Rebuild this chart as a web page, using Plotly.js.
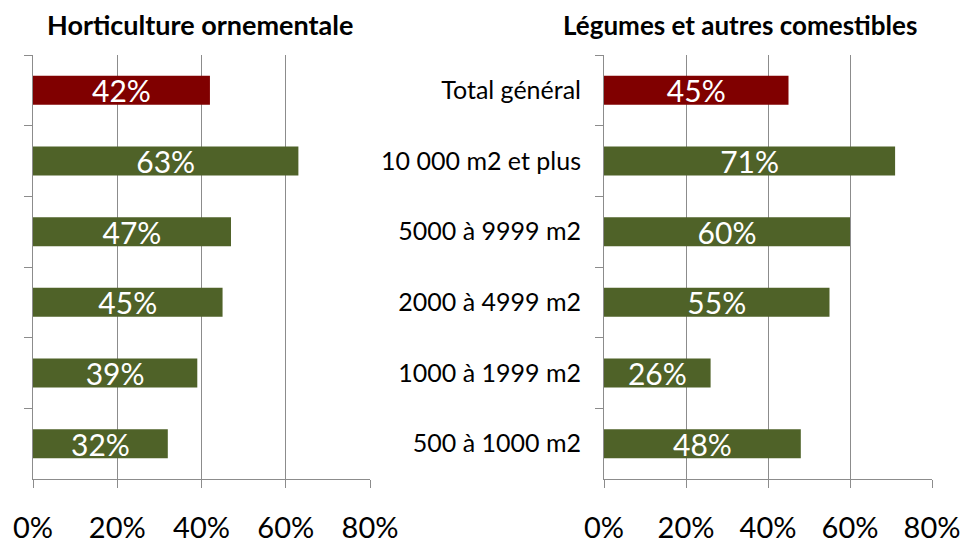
<!DOCTYPE html>
<html><head><meta charset="utf-8">
<script src="https://cdn.plot.ly/plotly-3.0.1.min.js"></script>
<style>html,body{margin:0;padding:0;background:#fff}</style>
</head><body><div id="chart" style="width:962px;height:544px"></div>
<script>
const categories = ["Total général", "10 000 m2 et plus", "5000 à 9999 m2", "2000 à 4999 m2", "1000 à 1999 m2", "500 à 1000 m2"];
const horticulture = [42, 63, 47, 45, 39, 32];
const legumes = [45, 71, 60, 55, 26, 48];
const xTickVals = [0, 20, 40, 60, 80];
const xTickText = ["0%", "20%", "40%", "60%", "80%"];
const titles = ["Horticulture ornementale", "Légumes et autres comestibles"];

const red = "#800000", green = "#4F6228";
const colors = categories.map((c, i) => i === 0 ? red : green);
const FONT = "Lato, 'Noto Sans', sans-serif";

function barTrace(vals, xa, ya) {
  return {
    type: "bar", orientation: "h", x: vals, y: categories,
    xaxis: xa, yaxis: ya,
    marker: {color: colors, line: {width: 0}},
    text: vals.map(v => v + "%"), textposition: "inside",
    insidetextanchor: "middle", constraintext: "none",
    textfont: {family: FONT, size: 30, color: "#ffffff"},
    hoverinfo: "skip", cliponaxis: false
  };
}

const gridCol = "#8c8c8c";
function xAxis(domain, anchor) {
  return {
    domain: domain, anchor: anchor, range: [0, 80], tickvals: xTickVals, ticktext: xTickText,
    showgrid: true, gridcolor: gridCol, gridwidth: 1, zeroline: false,
    showline: true, linecolor: gridCol, linewidth: 1,
    ticks: "outside", ticklen: 8, tickcolor: gridCol,
    ticklabelstandoff: 15,
    tickfont: {family: FONT, size: 29, color: "#000"}, fixedrange: true
  };
}
function yAxis(domain, anchor, labels) {
  return {
    domain: domain, anchor: anchor, type: "category", autorange: "reversed",
    showline: true, linecolor: gridCol, linewidth: 1,
    ticks: "outside", ticklen: 8, tickcolor: gridCol, tickson: "boundaries",
    showgrid: false, showticklabels: labels, ticklabelstandoff: 17,
    tickfont: {family: FONT, size: 25, color: "#000"}, fixedrange: true
  };
}
const yd = [1 - 479 / 544, 1 - 55 / 544];
const layout = {
  width: 962, height: 544, margin: {l: 0, r: 0, t: 0, b: 0},
  paper_bgcolor: "#fff", plot_bgcolor: "#fff", showlegend: false,
  bargap: 0.59,
  xaxis: xAxis([33 / 962, 370 / 962], "y"),
  yaxis: yAxis(yd, "x", false),
  xaxis2: xAxis([604 / 962, 932 / 962], "y2"),
  yaxis2: yAxis(yd, "x2", true),
  annotations: [
    {text: "<b>" + titles[0] + "</b>", xref: "paper", yref: "paper", x: 200 / 962, y: 1 - 25 / 544,
     xanchor: "center", yanchor: "middle", showarrow: false, font: {family: FONT, size: 27, color: "#000"}},
    {text: "<b>" + titles[1] + "</b>", xref: "paper", yref: "paper", x: 740 / 962, y: 1 - 25 / 544,
     xanchor: "center", yanchor: "middle", showarrow: false, font: {family: FONT, size: 26, color: "#000"}}
  ]
};
Plotly.newPlot("chart", [barTrace(horticulture, "x", "y"), barTrace(legumes, "x2", "y2")], layout, {displayModeBar: false, staticPlot: true});
</script></body></html>
